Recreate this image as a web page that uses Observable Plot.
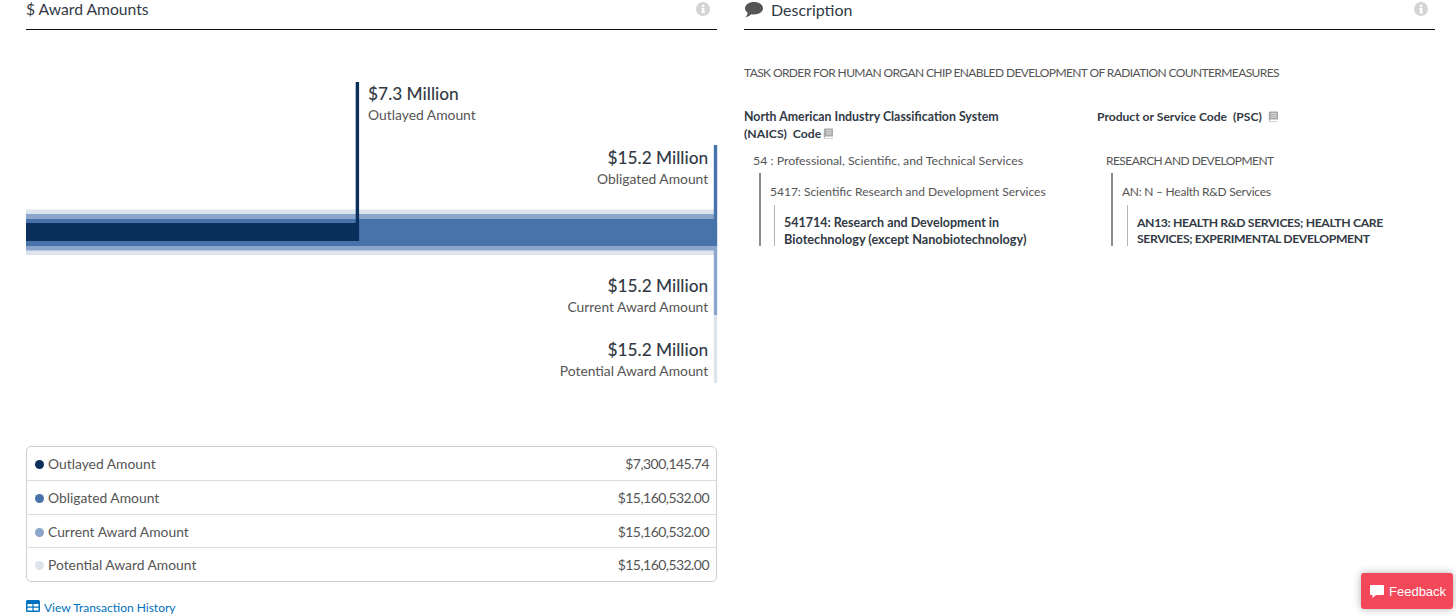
<!DOCTYPE html>
<html>
<head>
<meta charset="utf-8">
<script src="https://cdn.jsdelivr.net/npm/d3@7"></script>
<script src="https://cdn.jsdelivr.net/npm/@observablehq/plot@0.6"></script>
<style>
html,body{margin:0;padding:0;background:#fff;width:1456px;height:616px;overflow:hidden;font-family:Lato,"Noto Sans",sans-serif;color:#323a45}
#chart{position:absolute;left:0;top:0}
#chart svg{display:block;font-family:Lato,"Noto Sans",sans-serif}
.t{position:absolute;white-space:nowrap;line-height:1}
.h{color:#323a45}
.d{color:#555}
.b{font-weight:700;color:#323a45}
.hr{position:absolute;height:1px;background:#111;top:29px}
.v{position:absolute}
#box{position:absolute;left:26px;top:446px;width:689px;height:134px;border:1px solid #cfcfcf;border-radius:5px}
.sep{position:absolute;left:26px;width:691px;height:1px;background:#dcdcdc}
.dot{position:absolute;width:9px;height:9px;border-radius:50%}
.row{font-size:14px;color:#555}
#fb{position:absolute;left:1361px;top:573px;width:92px;height:36px;background:#f2485a;border-radius:3px;box-shadow:0 0 9px rgba(0,0,0,.3);color:#fff;font:13px "Liberation Sans",Arial,sans-serif}
</style>
</head>
<body>
<div id="chart"></div>
<div id="page"></div>
<script>
// ---- data ----
const categories = ["Outlayed Amount","Obligated Amount","Current Award Amount","Potential Award Amount"];
const amounts = [7300145.74,15160532,15160532,15160532];
const shortLabels = ["$7.3 Million","$15.2 Million","$15.2 Million","$15.2 Million"];
const fullLabels = ["$7,300,145.74","$15,160,532.00","$15,160,532.00","$15,160,532.00"];
const colors = ["#0a2f5a","#4773aa","#8ba6ca","#dce4ee"];

// ---- layout (pixels on the identity y scale) ----
const bandTop = [223,219,214,209.5], bandBottom = [241,246,250.5,255];
const ruleTop = [82,145,246,315], ruleBottom = [241,246,315,383];
const amountY = [94,158,286,350], nameY = [115,179,307,371];

const rows = categories.map((name,i)=>({name,amount:amounts[i],short:shortLabels[i],color:colors[i],
  y1:bandTop[i],y2:bandBottom[i],r1:ruleTop[i],r2:ruleBottom[i],ay:amountY[i],ny:nameY[i],
  left:i===0}));
const drawOrder = [3,2,1,0].map(i=>rows[i]);

const plot = Plot.plot({
  width:730,height:400,margin:0,
  x:{type:"linear",domain:[0,15160532],range:[26,716.7],axis:null},
  y:{type:"linear",domain:[0,400],range:[0,400],axis:null},
  marks:[
    Plot.rect(drawOrder,{x1:0,x2:"amount",y1:"y1",y2:"y2",fill:"color"}),
    Plot.ruleX(drawOrder,{x:"amount",y1:"r1",y2:"r2",stroke:"color",strokeWidth:3.4,dx:-1.7}),
    Plot.text(rows,{x:"amount",y:"ay",text:"short",fill:"#323a45",fontSize:17.3,fontWeight:500,
      textAnchor:"end",filter:d=>!d.left,dx:-9}),
    Plot.text(rows,{x:"amount",y:"ny",text:"name",fill:"#555",fontSize:13.85,
      textAnchor:"end",filter:d=>!d.left,dx:-9}),
    Plot.text(rows,{x:"amount",y:"ay",text:"short",fill:"#323a45",fontSize:17.3,fontWeight:500,
      textAnchor:"start",filter:d=>d.left,dx:9}),
    Plot.text(rows,{x:"amount",y:"ny",text:"name",fill:"#555",fontSize:13.85,
      textAnchor:"start",filter:d=>d.left,dx:9})
  ]
});
document.getElementById("chart").append(plot);

// ---- surrounding page ----
const page = document.getElementById("page");
function add(html){page.insertAdjacentHTML("beforeend",html)}
function text(x,cy,cls,s,fs,ls){
  add(`<div class="t ${cls}" style="left:${x}px;top:${cy-fs/2}px;font-size:${fs}px;letter-spacing:${ls||0}px">${s}</div>`);
}
function textR(xr,cy,cls,s,ls){
  add(`<div class="t ${cls}" style="right:${1456-xr}px;top:${cy-7}px;letter-spacing:${ls||0}px">${s}</div>`);
}
const info = x=>`<svg class="v" style="left:${x}px;top:2px" width="14" height="14" viewBox="0 0 14 14"><circle cx="7" cy="7" r="7" fill="#d4d4d4"/><rect x="6" y="6" width="2.4" height="5" fill="#fff"/><rect x="5.3" y="6" width="2" height="1" fill="#fff"/><rect x="5.3" y="10.2" width="3.8" height="1" fill="#fff"/><circle cx="7.1" cy="3.9" r="1.3" fill="#fff"/></svg>`;
const book = (x,y)=>`<svg class="v" style="left:${x}px;top:${y}px" width="11" height="11" viewBox="0 0 11 11"><path d="M2 0.5H10V8.5H3Q1.6 8.5 1.6 9.4T3 10.4H10V11H2.6Q0.8 11 0.8 9.2V1.8Q0.8 .5 2 .5Z" fill="#a9a9a9"/><path d="M3 2.5H8.6M3 4.3H8.6M3 6.1H8.6" stroke="#eee" stroke-width=".7"/></svg>`;

text(26,10,"h","$ Award Amounts",15.7);
add(info(696));
add(`<div class="hr" style="left:26px;width:691px"></div>`);

add(`<svg class="v" style="left:744px;top:1px" width="20" height="17" viewBox="0 0 20 16"><path d="M10 0.5C15 0.5 19 3.1 19 6.8S15 13 10 13C9 13 8 12.9 7.1 12.7 5.6 14.5 3.4 15.5 1.5 15.8 2.9 14.4 3.6 13 3.6 11.3 2 10.1 1 8.6 1 6.8 1 3.1 5 .5 10 .5Z" fill="#555"/></svg>`);
text(771,10,"h","Description",16);
add(info(1414));
add(`<div class="hr" style="left:744px;width:691px"></div>`);

text(744,73,"d","TASK ORDER FOR HUMAN ORGAN CHIP ENABLED DEVELOPMENT OF RADIATION COUNTERMEASURES",12,-0.6);
text(744,117.5,"b","North American Industry Classification System",12.35);
text(744,134,"b","(NAICS)&nbsp; Code",12.2);
add(book(823,128));
text(1097,117.5,"b","Product or Service Code&nbsp; (PSC)",12.1);
add(book(1268,111));

text(753,161.5,"d","54 : Professional, Scientific, and Technical Services",12.3);
text(770,192,"d","5417: Scientific Research and Development Services",12);
text(784,223,"b","541714: Research and Development in",12.5);
text(784,239.5,"b","Biotechnology (except Nanobiotechnology)",12.7);
text(1106,161,"d","RESEARCH AND DEVELOPMENT",12,-0.55);
text(1122,192,"d","AN: N – Health R&amp;D Services",12,-0.25);
text(1137,223,"b","AN13: HEALTH R&amp;D SERVICES; HEALTH CARE",12.2,-0.35);
text(1137,239.5,"b","SERVICES; EXPERIMENTAL DEVELOPMENT",12.2,-0.35);
[759,1111].forEach(x=>add(`<div class="v" style="left:${x}px;top:173px;width:2px;height:73px;background:#8c8c8c"></div>`));
[774,1127].forEach(x=>add(`<div class="v" style="left:${x}px;top:205px;width:1px;height:41px;background:#b5b5b5"></div>`));

// legend table
add(`<div id="box"></div>`);
const rowY=[464,498,532,565], sepY=[480,514,547];
sepY.forEach(y=>add(`<div class="sep" style="top:${y}px"></div>`));
categories.forEach((c,i)=>{
  add(`<div class="dot" style="left:34.5px;top:${rowY[i]-4.5}px;background:${colors[i]}"></div>`);
  text(48,rowY[i],"row",c,13.85);
  textR(709,rowY[i],"row",fullLabels[i],-0.55);
});

// footer link
add(`<svg class="v" style="left:26px;top:600px" width="14" height="12" viewBox="0 0 14 12"><rect width="14" height="12" rx="1.5" fill="#0071bc"/><path d="M1.5 4H6.4V6.5H1.5ZM7.6 4H12.5V6.5H7.6ZM1.5 7.7H6.4V10.5H1.5ZM7.6 7.7H12.5V10.5H7.6Z" fill="#fff"/></svg>`);
add(`<div class="t" style="left:44px;top:602px;font-size:12px;color:#0071bc">View Transaction History</div>`);

// feedback button
add(`<div id="fb"><svg class="v" style="left:9px;top:12px" width="14" height="13" viewBox="0 0 14 13"><path d="M1 0H13Q14 0 14 1V9Q14 10 13 10H6L2.5 13V10H1Q0 10 0 9V1Q0 0 1 0Z" fill="#fff"/></svg><span class="t" style="left:28px;top:12px">Feedback</span></div>`);
</script>
</body>
</html>
